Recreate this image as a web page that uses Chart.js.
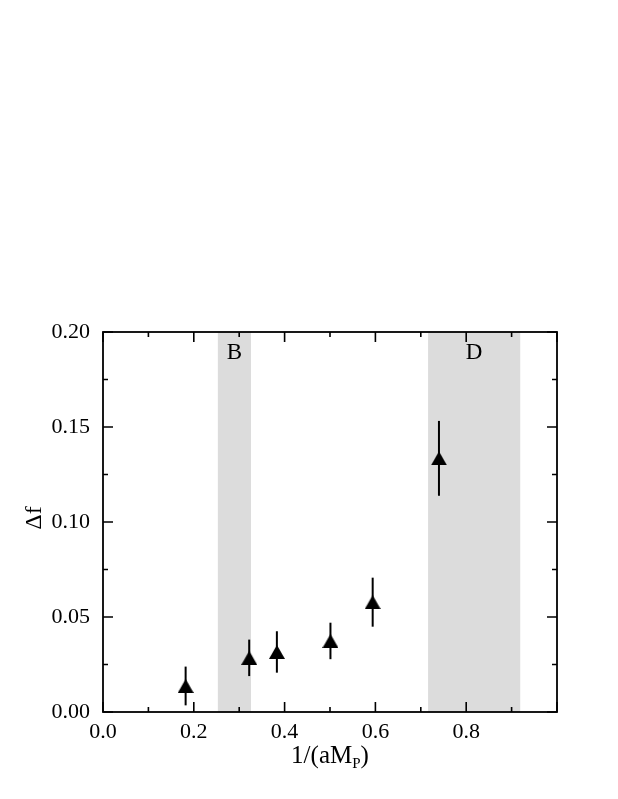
<!DOCTYPE html>
<html>
<head>
<meta charset="utf-8">
<script src="https://cdn.jsdelivr.net/npm/chart.js@4"></script>
<style>
	body { margin: 0; background: #fff; }
	#wrap { width: 618px; height: 799px; }
</style>
</head>
<body>
<div id="wrap"><canvas id="deltaChart"></canvas></div>
<script>
// data
const xVals = [0.182, 0.322, 0.383, 0.501, 0.594, 0.740];
const yVals = [0.0137, 0.0285, 0.0316, 0.0374, 0.0578, 0.1335];
const yErr = [0.0102, 0.0096, 0.0109, 0.0096, 0.0129, 0.0197];

const bandStart = [0.253, 0.716];
const bandEnd = [0.326, 0.919];
const bandLabels = ['B', 'D'];

const xTicks = [0.0, 0.2, 0.4, 0.6, 0.8, 1.0];
const xMinor = [0.1, 0.3, 0.5, 0.7, 0.9];
const yTicks = [0.00, 0.05, 0.10, 0.15, 0.20];
const yMinor = [0.025, 0.075, 0.125, 0.175];

const serif = "'Liberation Serif', 'Times New Roman', serif";

// filled triangle marker, centred on its bounding box
function makeTriangle(w, h) {
	const c = document.createElement('canvas');
	c.width = w;
	c.height = h;
	const t = c.getContext('2d');
	t.fillStyle = '#000';
	t.beginPath();
	t.moveTo(w / 2, 0);
	t.lineTo(w, h);
	t.lineTo(0, h);
	t.closePath();
	t.fill();
	return c;
}

const framePlugin = {
	id: 'frame',
	beforeDatasetsDraw(chart) {
		const ctx = chart.ctx;
		const x = chart.scales.x, y = chart.scales.y;
		const area = chart.chartArea;
		ctx.save();
		ctx.fillStyle = '#dcdcdc';
		for (let i = 0; i < bandStart.length; i++) {
			const x0 = x.getPixelForValue(bandStart[i]);
			const x1 = x.getPixelForValue(bandEnd[i]);
			ctx.fillRect(x0, area.top, x1 - x0, area.bottom - area.top);
		}
		ctx.fillStyle = '#000';
		ctx.font = '23px ' + serif;
		ctx.textAlign = 'center';
		ctx.textBaseline = 'middle';
		for (let i = 0; i < bandLabels.length; i++) {
			const cx = (x.getPixelForValue(bandStart[i]) + x.getPixelForValue(bandEnd[i])) / 2;
			ctx.fillText(bandLabels[i], cx, area.top + 21);
		}
		// error bars
		ctx.strokeStyle = '#000';
		ctx.lineWidth = 2;
		for (let i = 0; i < xVals.length; i++) {
			const px = x.getPixelForValue(xVals[i]);
			ctx.beginPath();
			ctx.moveTo(px, y.getPixelForValue(yVals[i] - yErr[i]));
			ctx.lineTo(px, y.getPixelForValue(yVals[i] + yErr[i]));
			ctx.stroke();
		}
		ctx.restore();
	},
	afterDatasetsDraw(chart) {
		const ctx = chart.ctx;
		const x = chart.scales.x, y = chart.scales.y;
		const a = chart.chartArea;
		ctx.save();
		ctx.strokeStyle = '#000';
		ctx.lineWidth = 1.8;
		ctx.strokeRect(a.left, a.top, a.right - a.left, a.bottom - a.top);
		ctx.lineWidth = 1.6;
		ctx.beginPath();
		const xt = (v, len) => {
			const p = x.getPixelForValue(v);
			ctx.moveTo(p, a.bottom); ctx.lineTo(p, a.bottom - len);
			ctx.moveTo(p, a.top); ctx.lineTo(p, a.top + len);
		};
		const yt = (v, len) => {
			const p = y.getPixelForValue(v);
			ctx.moveTo(a.left, p); ctx.lineTo(a.left + len, p);
			ctx.moveTo(a.right, p); ctx.lineTo(a.right - len, p);
		};
		xTicks.forEach(v => xt(v, 10));
		xMinor.forEach(v => xt(v, 5));
		yTicks.forEach(v => yt(v, 10));
		yMinor.forEach(v => yt(v, 5));
		ctx.stroke();

		// axis titles
		ctx.fillStyle = '#000';
		ctx.textBaseline = 'alphabetic';
		const main = '1/(aM', sub = 'P', tail = ')';
		ctx.font = '25px ' + serif;
		const wMain = ctx.measureText(main).width;
		const wTail = ctx.measureText(tail).width;
		ctx.font = '15px ' + serif;
		const wSub = ctx.measureText(sub).width;
		const cx = (a.left + a.right) / 2;
		const sx = cx - (wMain + wSub + wTail) / 2;
		const base = 763;
		ctx.textAlign = 'left';
		ctx.font = '25px ' + serif;
		ctx.fillText(main, sx, base);
		ctx.font = '15px ' + serif;
		ctx.fillText(sub, sx + wMain, base + 5);
		ctx.font = '25px ' + serif;
		ctx.fillText(tail, sx + wMain + wSub, base);

		ctx.font = '24px ' + serif;
		ctx.translate(35, (a.top + a.bottom) / 2 - 4);
		ctx.rotate(-Math.PI / 2);
		ctx.textAlign = 'center';
		ctx.textBaseline = 'middle';
		ctx.fillText('\u0394f', 0, 0);
		ctx.restore();
	}
};

const marker = makeTriangle(16, 14);

const ctx = document.getElementById('deltaChart').getContext('2d');
const chart = new Chart(ctx, {
	type: 'scatter',
	data: {
		datasets: [
			{
				label: 'delta f',
				data: xVals.map((v, i) => ({ x: v, y: yVals[i] })),
				pointStyle: marker,
				pointRadius: 8,
				pointHoverRadius: 8,
				backgroundColor: '#000',
				borderColor: '#000',
				borderWidth: 0,
			},
		],
	},
	options: {
		responsive: true,
		maintainAspectRatio: false,
		animation: false,
		layout: {
			padding: { top: 332, right: 61, bottom: 0, left: 0 },
		},
		plugins: {
			legend: { display: false },
			tooltip: { enabled: false },
		},
		scales: {
			x: {
				type: 'linear',
				min: 0,
				max: 1.0,
				afterFit: function (scale) { scale.height = 87; },
				afterBuildTicks: function (scale) {
					scale.ticks = xTicks.map(v => ({ value: v }));
				},
				grid: { display: false, drawTicks: false },
				border: { display: false },
				ticks: {
					padding: 7,
					color: '#000',
					font: { family: serif, size: 22 },
					callback: function (value) {
						return value >= 0.99 ? '' : value.toFixed(1);
					},
				},
			},
			y: {
				type: 'linear',
				min: 0,
				max: 0.2,
				afterFit: function (scale) { scale.width = 103; },
				afterBuildTicks: function (scale) {
					scale.ticks = yTicks.map(v => ({ value: v }));
				},
				grid: { display: false, drawTicks: false },
				border: { display: false },
				ticks: {
					padding: 13,
					color: '#000',
					font: { family: serif, size: 22 },
					callback: function (value) {
						return value.toFixed(2);
					},
				},
			},
		},
	},
	plugins: [framePlugin],
});
</script>
</body>
</html>
